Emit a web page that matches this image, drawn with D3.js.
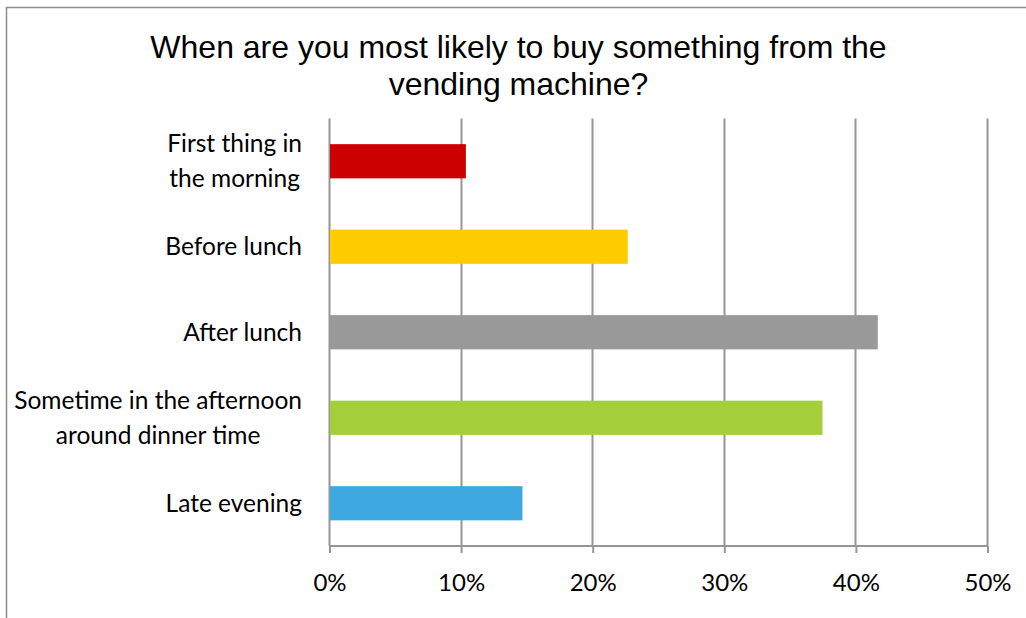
<!DOCTYPE html>
<html><head><meta charset="utf-8">
<script src="https://cdn.jsdelivr.net/npm/d3@7"></script>
<style>
html,body{margin:0;padding:0;background:#fff;}
svg{display:block;}
</style></head>
<body>
<svg id="chart" width="1026" height="618"></svg>
<script>
const categories = [
  ["First thing in", "the morning"],
  ["Before lunch"],
  ["After lunch"],
  ["Sometime in the afternoon", "around dinner time"],
  ["Late evening"]
];
const values = [0.104, 0.227, 0.417, 0.375, 0.147];
const colors = ["#CC0000", "#FFCC00", "#999999", "#A4CF3A", "#3DA9E0"];
const tickValues = [0, 0.1, 0.2, 0.3, 0.4, 0.5];
const titleLines = ["When are you most likely to buy something from the", "vending machine?"];

(function () {
const svg = d3.select("#chart");
const W = 1026, H = 618;
const pL = 329, pR = 987, pT = 118.5, pB = 546;
const labelFont = "Lato, 'Open Sans', sans-serif";

// outer border (left and top visible)
svg.append("path")
  .attr("d", `M6.5,${H} V7.5 H${W}`)
  .attr("fill", "none").attr("stroke", "#8c8c8c").attr("stroke-width", 1.5);

// title
const title = svg.append("text")
  .attr("text-anchor", "middle")
  .attr("font-family", "'Liberation Sans', Arial, sans-serif")
  .attr("font-size", 32)
  .attr("fill", "#000");
titleLines.forEach((t, i) => {
  title.append("tspan").attr("x", 518.5).attr("y", 58 + i * 37).text(t);
});

const x = d3.scaleLinear().domain([0, 0.5]).range([pL, pR]);
const idx = d3.range(categories.length);
const y = d3.scaleBand().domain(idx).range([pT, pB]).paddingInner(0.6).paddingOuter(0.3);

// gridlines
svg.append("g").selectAll("line").data(tickValues).join("line")
  .attr("x1", d => Math.round(x(d)) + 0.5).attr("x2", d => Math.round(x(d)) + 0.5)
  .attr("y1", pT).attr("y2", pB)
  .attr("stroke", "#969696").attr("stroke-width", 2);

// bars
svg.append("g").selectAll("rect").data(values).join("rect")
  .attr("x", x(0) + 1)
  .attr("y", (d, i) => y(i))
  .attr("width", d => x(d) - x(0) - 1)
  .attr("height", y.bandwidth())
  .attr("fill", (d, i) => colors[i]);

// x axis
const xAxis = d3.axisBottom(x).tickValues(tickValues).tickFormat(d3.format(".0%")).tickSize(7).tickSizeOuter(0);
const gx = svg.append("g").attr("transform", `translate(0.5,${pB})`).call(xAxis);
gx.select(".domain").attr("stroke", "#969696").attr("stroke-width", 2).attr("d", `M${pL - 0.5},0H${pR - 0.5}`);
gx.selectAll(".tick line").attr("stroke", "#969696").attr("stroke-width", 2);
gx.selectAll(".tick text")
  .attr("y", 45).attr("dy", null)
  .attr("font-family", labelFont)
  .attr("font-size", 24).attr("fill", "#000");

// y labels
const gl = svg.append("g")
  .attr("font-family", labelFont)
  .attr("font-size", 24.5).attr("fill", "#000");
categories.forEach((lines, i) => {
  const cy = y(i) + y.bandwidth() / 2;
  const lh = 35;
  const multi = lines.length > 1;
  const t = gl.append("text").attr("text-anchor", multi ? "middle" : "end");
  lines.forEach((ln, j) => {
    t.append("tspan")
      .attr("x", 302)
      .attr("y", cy + 8.5 + (j - (lines.length - 1) / 2) * lh)
      .text(ln);
  });
  if (multi) {
    const w = t.node().getBBox().width;
    t.selectAll("tspan").attr("x", 302 - w / 2);
  }
});
})();
</script>
</body></html>
